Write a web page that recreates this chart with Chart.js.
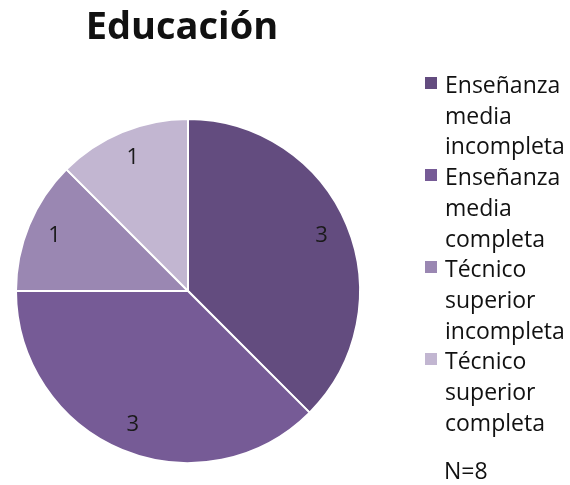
<!DOCTYPE html>
<html>
<head>
<meta charset="utf-8">
<script src="https://cdn.jsdelivr.net/npm/chart.js@4/dist/chart.umd.min.js"></script>
<style>
  html, body { margin: 0; padding: 0; background: #fff; }
  #wrap { position: relative; width: 570px; height: 485px; overflow: hidden; }
  #c { position: absolute; left: 0; top: 0; }
  #title { position: absolute; left: 0; width: 364px; top: 2px; text-align: center;
           font-family: "Open Sans", Lato, sans-serif; font-weight: 700; font-size: 38px; color: #111; line-height: 44px; }
  #legend { position: absolute; left: 425px; top: 69px; font-family: "Open Sans", Lato, sans-serif; font-size: 23px; color: #111; }
  .item { position: relative; padding-left: 20px; line-height: 30.7px; }
  .sw { position: absolute; left: 0; top: 8px; width: 12px; height: 12px; }
  #note { position: absolute; left: 444px; top: 454px; font-family: "Open Sans", Lato, sans-serif; font-size: 23px; color: #111; }
</style>
</head>
<body>
<div id="wrap">
  <canvas id="c" width="570" height="485"></canvas>
  <div id="title"></div>
  <div id="legend"></div>
  <div id="note"></div>
</div>
<script>
const chartTitle = "Educación";
const categories = [
  ["Enseñanza", "media", "incompleta"],
  ["Enseñanza", "media", "completa"],
  ["Técnico", "superior", "incompleta"],
  ["Técnico", "superior", "completa"]
];
const values = [3, 3, 1, 1];
const colors = ["#634c7f", "#765b96", "#9a87b2", "#c2b6d1"];
const noteText = "N=8";

document.getElementById('title').textContent = chartTitle;
document.getElementById('note').textContent = noteText;
const legend = document.getElementById('legend');
categories.forEach((lines, i) => {
  const d = document.createElement('div');
  d.className = 'item';
  const sw = document.createElement('span');
  sw.className = 'sw';
  sw.style.background = colors[i];
  d.appendChild(sw);
  lines.forEach((t, j) => {
    if (j) d.appendChild(document.createElement('br'));
    d.appendChild(document.createTextNode(t));
  });
  legend.appendChild(d);
});

const labelPlugin = {
  id: 'sliceLabels',
  afterDatasetsDraw(chart) {
    const ctx = chart.ctx;
    const meta = chart.getDatasetMeta(0);
    ctx.save();
    ctx.font = '22px "Open Sans", Lato, sans-serif';
    ctx.fillStyle = '#1a1a1a';
    ctx.textAlign = 'center';
    ctx.textBaseline = 'middle';
    meta.data.forEach((arc, i) => {
      const p = arc.getProps(['x', 'y', 'startAngle', 'endAngle', 'outerRadius']);
      const a = (p.startAngle + p.endAngle) / 2;
      const r = p.outerRadius * 0.84;
      ctx.fillText(String(values[i]), p.x + Math.cos(a) * r, p.y + Math.sin(a) * r);
    });
    ctx.restore();
  }
};

new Chart(document.getElementById('c'), {
  type: 'pie',
  data: {
    labels: categories.map(l => l.join(' ')),
    datasets: [{
      data: values,
      backgroundColor: colors,
      borderColor: '#ffffff',
      borderWidth: 2
    }]
  },
  options: {
    responsive: false,
    animation: false,
    layout: { padding: { left: 15, right: 209, top: 118, bottom: 21 } },
    plugins: {
      legend: { display: false },
      tooltip: { enabled: false },
      title: { display: false }
    }
  },
  plugins: [labelPlugin]
});
</script>
</body>
</html>
